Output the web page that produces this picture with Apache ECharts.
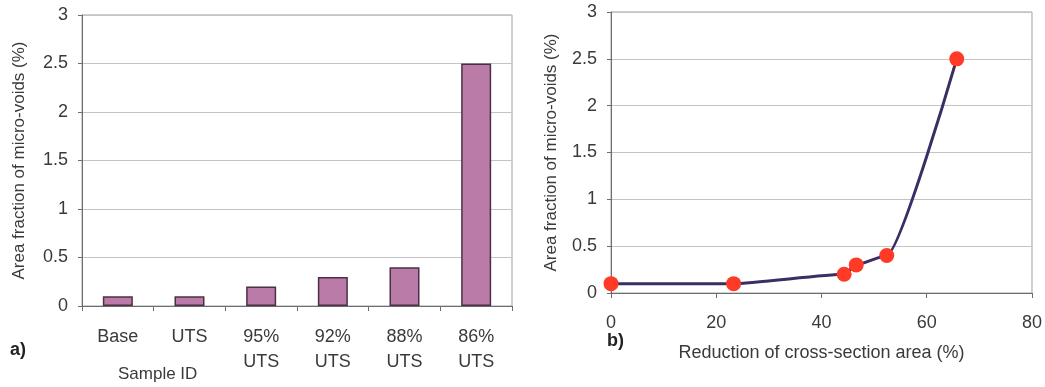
<!DOCTYPE html>
<html>
<head>
<meta charset="utf-8">
<script src="https://cdn.jsdelivr.net/npm/echarts@6/dist/echarts.min.js"></script>
<style>
html,body{margin:0;padding:0;background:#fff;}
#c{width:1045px;height:387px;}
</style>
</head>
<body>
<div id="c"></div>
<script>
// Panel a) data
const sampleIds = ['Base', 'UTS', '95%\nUTS', '92%\nUTS', '88%\nUTS', '86%\nUTS'];
const voidFractionA = [0.1, 0.1, 0.2, 0.3, 0.4, 2.5];
// Panel b) data
const reductionArea = [0, 23.3, 44.3, 46.6, 52.4, 65.7];
const voidFractionB = [0.1, 0.1, 0.2, 0.3, 0.4, 2.5];

const FONT = '"Liberation Sans", Arial, sans-serif';
const TXT = '#3a3a3a';
const FS = 18;

const chart = echarts.init(document.getElementById('c'), null, {renderer: 'canvas'});

const yAxisCommon = {
  type: 'value', min: 0, max: 3, interval: 0.5,
  axisLine: {show: true, lineStyle: {color: '#6e6e6e', width: 1}},
  axisTick: {show: true, length: 4, inside: false, lineStyle: {color: '#6e6e6e'}},
  axisLabel: {color: TXT, fontSize: FS, fontFamily: FONT, margin: 14},
  splitLine: {show: true, lineStyle: {color: '#c4c4c4', width: 1}},
  name: 'Area fraction of micro-voids (%)',
  nameLocation: 'middle',
  nameTextStyle: {color: TXT, fontSize: 17, fontFamily: FONT}
};

chart.setOption({
  backgroundColor: '#fff',
  animation: false,
  grid: [
    {left: 82, right: 533, top: 15, bottom: 81, show: true, borderColor: '#a0a0a0', borderWidth: 1, backgroundColor: 'transparent'},
    {left: 611, right: 12, top: 12, bottom: 94, show: true, borderColor: '#a0a0a0', borderWidth: 1, backgroundColor: 'transparent'}
  ],
  xAxis: [
    {
      gridIndex: 0, type: 'category', data: sampleIds,
      axisLine: {show: true, lineStyle: {color: '#6e6e6e'}},
      axisTick: {show: true, length: 5, alignWithLabel: false, lineStyle: {color: '#6e6e6e'}},
      axisLabel: {color: TXT, fontSize: FS, fontFamily: FONT, margin: 19, lineHeight: 25, interval: 0}
    },
    {
      gridIndex: 1, type: 'value', min: 0, max: 80, interval: 20,
      axisLine: {show: true, onZero: false, lineStyle: {color: '#6e6e6e'}},
      axisTick: {show: true, length: 5, lineStyle: {color: '#6e6e6e'}},
      axisLabel: {color: TXT, fontSize: FS, fontFamily: FONT, margin: 21},
      splitLine: {show: false},
      name: 'Reduction of cross-section area (%)',
      nameLocation: 'middle', nameGap: 51,
      nameTextStyle: {color: TXT, fontSize: FS, fontFamily: FONT}
    }
  ],
  yAxis: [
    Object.assign({}, yAxisCommon, {gridIndex: 0, nameGap: 54}),
    Object.assign({}, yAxisCommon, {gridIndex: 1, nameGap: 51})
  ],
  graphic: [
    {type: 'text', left: 118, top: 366, style: {text: 'Sample ID', fill: TXT, font: '17px ' + FONT}},
    {type: 'text', left: 10, top: 341, style: {text: 'a)', fill: '#222', font: 'bold 18px ' + FONT}},
    {type: 'text', left: 607, top: 332, style: {text: 'b)', fill: '#222', font: 'bold 18px ' + FONT}}
  ],
  series: [
    {
      type: 'bar', xAxisIndex: 0, yAxisIndex: 0,
      data: voidFractionA, barWidth: 30,
      itemStyle: {color: '#bb7ba8', borderColor: '#4a3044', borderWidth: 1.5}
    },
    {
      type: 'line', xAxisIndex: 1, yAxisIndex: 1,
      data: reductionArea.map((x, i) => [x, voidFractionB[i]]),
      smooth: 0.18, smoothMonotone: 'x',
      lineStyle: {color: '#3a2f62', width: 3},
      symbol: 'circle', symbolSize: 15,
      itemStyle: {color: '#ff3a26', borderWidth: 0},
      z: 3
    }
  ]
});
</script>
</body>
</html>
